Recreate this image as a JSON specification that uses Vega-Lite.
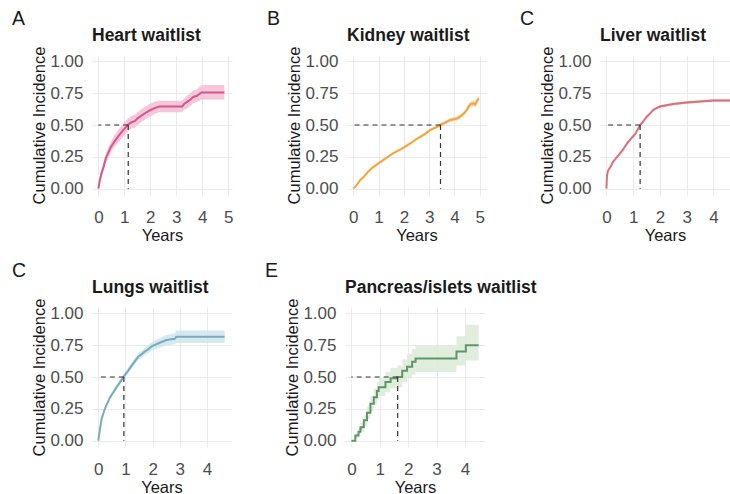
{
  "$schema": "https://vega.github.io/schema/vega-lite/v6.json",
  "background": "white",
  "padding": {"left": 11, "top": 9, "right": 0, "bottom": 0},
  "config": {
    "font": "Liberation Sans",
    "view": {"stroke": null},
    "axis": {"domain": false, "ticks": false, "gridColor": "#ebebeb", "gridWidth": 1, "labelColor": "#4d4d4d", "labelFontSize": 17, "titleFontSize": 16.5, "titleFontWeight": "normal", "titleColor": "#1a1a1a", "labelOverlap": false, "labelFlush": false},
    "axisX": {"labelPadding": 14, "titlePadding": 2},
    "axisY": {"labelPadding": 9, "titlePadding": 2},
    "title": {"anchor": "start", "color": "#1a1a1a"}
  },
  "datasets": {
    "curves": [
      {"organ": "Heart", "t": 0, "est": 0, "lo": 0, "hi": 0},
      {"organ": "Heart", "t": 0.05, "est": 0.06, "lo": 0.04, "hi": 0.08},
      {"organ": "Heart", "t": 0.12, "est": 0.12, "lo": 0.09, "hi": 0.15},
      {"organ": "Heart", "t": 0.2, "est": 0.17, "lo": 0.14, "hi": 0.21},
      {"organ": "Heart", "t": 0.29, "est": 0.24, "lo": 0.2, "hi": 0.28},
      {"organ": "Heart", "t": 0.49, "est": 0.33, "lo": 0.29, "hi": 0.37},
      {"organ": "Heart", "t": 0.62, "est": 0.37, "lo": 0.33, "hi": 0.42},
      {"organ": "Heart", "t": 0.8, "est": 0.42, "lo": 0.37, "hi": 0.47},
      {"organ": "Heart", "t": 1.0, "est": 0.47, "lo": 0.42, "hi": 0.52},
      {"organ": "Heart", "t": 1.13, "est": 0.5, "lo": 0.45, "hi": 0.55},
      {"organ": "Heart", "t": 1.26, "est": 0.52, "lo": 0.47, "hi": 0.57},
      {"organ": "Heart", "t": 1.4, "est": 0.53, "lo": 0.48, "hi": 0.58},
      {"organ": "Heart", "t": 1.5, "est": 0.55, "lo": 0.5, "hi": 0.6},
      {"organ": "Heart", "t": 1.7, "est": 0.58, "lo": 0.53, "hi": 0.63},
      {"organ": "Heart", "t": 1.85, "est": 0.6, "lo": 0.55, "hi": 0.65},
      {"organ": "Heart", "t": 2.03, "est": 0.62, "lo": 0.57, "hi": 0.67},
      {"organ": "Heart", "t": 2.2, "est": 0.635, "lo": 0.59, "hi": 0.685},
      {"organ": "Heart", "t": 2.35, "est": 0.645, "lo": 0.6, "hi": 0.69},
      {"organ": "Heart", "t": 3.23, "est": 0.645, "lo": 0.6, "hi": 0.69},
      {"organ": "Heart", "t": 3.3, "est": 0.665, "lo": 0.62, "hi": 0.71},
      {"organ": "Heart", "t": 3.4, "est": 0.68, "lo": 0.63, "hi": 0.73},
      {"organ": "Heart", "t": 3.55, "est": 0.7, "lo": 0.65, "hi": 0.75},
      {"organ": "Heart", "t": 3.65, "est": 0.72, "lo": 0.67, "hi": 0.77},
      {"organ": "Heart", "t": 3.8, "est": 0.73, "lo": 0.68, "hi": 0.78},
      {"organ": "Heart", "t": 3.97, "est": 0.755, "lo": 0.7, "hi": 0.815},
      {"organ": "Heart", "t": 4.85, "est": 0.755, "lo": 0.7, "hi": 0.815},
      {"organ": "Kidney", "t": 0, "est": 0, "lo": 0, "hi": 0},
      {"organ": "Kidney", "t": 0.1, "est": 0.02, "lo": 0.015, "hi": 0.025},
      {"organ": "Kidney", "t": 0.26, "est": 0.065, "lo": 0.055, "hi": 0.075},
      {"organ": "Kidney", "t": 0.4, "est": 0.09, "lo": 0.08, "hi": 0.1},
      {"organ": "Kidney", "t": 0.55, "est": 0.125, "lo": 0.115, "hi": 0.135},
      {"organ": "Kidney", "t": 0.73, "est": 0.16, "lo": 0.15, "hi": 0.17},
      {"organ": "Kidney", "t": 0.9, "est": 0.185, "lo": 0.175, "hi": 0.195},
      {"organ": "Kidney", "t": 1.0, "est": 0.2, "lo": 0.19, "hi": 0.21},
      {"organ": "Kidney", "t": 1.3, "est": 0.24, "lo": 0.23, "hi": 0.25},
      {"organ": "Kidney", "t": 1.59, "est": 0.28, "lo": 0.27, "hi": 0.29},
      {"organ": "Kidney", "t": 1.98, "est": 0.32, "lo": 0.31, "hi": 0.33},
      {"organ": "Kidney", "t": 2.25, "est": 0.355, "lo": 0.345, "hi": 0.365},
      {"organ": "Kidney", "t": 2.5, "est": 0.39, "lo": 0.38, "hi": 0.4},
      {"organ": "Kidney", "t": 2.8, "est": 0.425, "lo": 0.413, "hi": 0.437},
      {"organ": "Kidney", "t": 3.04, "est": 0.46, "lo": 0.448, "hi": 0.472},
      {"organ": "Kidney", "t": 3.25, "est": 0.48, "lo": 0.468, "hi": 0.492},
      {"organ": "Kidney", "t": 3.44, "est": 0.5, "lo": 0.487, "hi": 0.513},
      {"organ": "Kidney", "t": 3.65, "est": 0.52, "lo": 0.506, "hi": 0.534},
      {"organ": "Kidney", "t": 3.84, "est": 0.54, "lo": 0.525, "hi": 0.555},
      {"organ": "Kidney", "t": 4.1, "est": 0.55, "lo": 0.534, "hi": 0.566},
      {"organ": "Kidney", "t": 4.25, "est": 0.57, "lo": 0.553, "hi": 0.587},
      {"organ": "Kidney", "t": 4.37, "est": 0.59, "lo": 0.572, "hi": 0.608},
      {"organ": "Kidney", "t": 4.5, "est": 0.62, "lo": 0.6, "hi": 0.64},
      {"organ": "Kidney", "t": 4.56, "est": 0.645, "lo": 0.625, "hi": 0.665},
      {"organ": "Kidney", "t": 4.65, "est": 0.665, "lo": 0.643, "hi": 0.687},
      {"organ": "Kidney", "t": 4.75, "est": 0.67, "lo": 0.647, "hi": 0.693},
      {"organ": "Kidney", "t": 4.82, "est": 0.66, "lo": 0.637, "hi": 0.683},
      {"organ": "Kidney", "t": 4.9, "est": 0.69, "lo": 0.665, "hi": 0.715},
      {"organ": "Kidney", "t": 4.96, "est": 0.71, "lo": 0.684, "hi": 0.736},
      {"organ": "Liver", "t": 0, "est": 0, "lo": 0, "hi": 0},
      {"organ": "Liver", "t": 0.02, "est": 0.1, "lo": 0.092, "hi": 0.108},
      {"organ": "Liver", "t": 0.06, "est": 0.14, "lo": 0.131, "hi": 0.149},
      {"organ": "Liver", "t": 0.15, "est": 0.17, "lo": 0.16, "hi": 0.18},
      {"organ": "Liver", "t": 0.25, "est": 0.21, "lo": 0.2, "hi": 0.22},
      {"organ": "Liver", "t": 0.4, "est": 0.25, "lo": 0.24, "hi": 0.26},
      {"organ": "Liver", "t": 0.6, "est": 0.3, "lo": 0.29, "hi": 0.31},
      {"organ": "Liver", "t": 0.77, "est": 0.355, "lo": 0.345, "hi": 0.365},
      {"organ": "Liver", "t": 0.95, "est": 0.4, "lo": 0.39, "hi": 0.41},
      {"organ": "Liver", "t": 1.08, "est": 0.43, "lo": 0.42, "hi": 0.44},
      {"organ": "Liver", "t": 1.26, "est": 0.5, "lo": 0.49, "hi": 0.51},
      {"organ": "Liver", "t": 1.4, "est": 0.535, "lo": 0.525, "hi": 0.545},
      {"organ": "Liver", "t": 1.51, "est": 0.565, "lo": 0.555, "hi": 0.575},
      {"organ": "Liver", "t": 1.65, "est": 0.595, "lo": 0.585, "hi": 0.605},
      {"organ": "Liver", "t": 1.76, "est": 0.62, "lo": 0.61, "hi": 0.63},
      {"organ": "Liver", "t": 1.9, "est": 0.635, "lo": 0.625, "hi": 0.645},
      {"organ": "Liver", "t": 2.0, "est": 0.645, "lo": 0.635, "hi": 0.655},
      {"organ": "Liver", "t": 2.25, "est": 0.655, "lo": 0.645, "hi": 0.665},
      {"organ": "Liver", "t": 2.5, "est": 0.665, "lo": 0.655, "hi": 0.675},
      {"organ": "Liver", "t": 3.0, "est": 0.676, "lo": 0.666, "hi": 0.686},
      {"organ": "Liver", "t": 3.62, "est": 0.687, "lo": 0.677, "hi": 0.697},
      {"organ": "Liver", "t": 4.0, "est": 0.692, "lo": 0.682, "hi": 0.702},
      {"organ": "Liver", "t": 4.62, "est": 0.692, "lo": 0.682, "hi": 0.702},
      {"organ": "Lungs", "t": 0, "est": 0, "lo": 0, "hi": 0},
      {"organ": "Lungs", "t": 0.06, "est": 0.09, "lo": 0.08, "hi": 0.1},
      {"organ": "Lungs", "t": 0.12, "est": 0.17, "lo": 0.155, "hi": 0.185},
      {"organ": "Lungs", "t": 0.24, "est": 0.25, "lo": 0.235, "hi": 0.265},
      {"organ": "Lungs", "t": 0.43, "est": 0.34, "lo": 0.323, "hi": 0.357},
      {"organ": "Lungs", "t": 0.67, "est": 0.42, "lo": 0.402, "hi": 0.438},
      {"organ": "Lungs", "t": 0.8, "est": 0.46, "lo": 0.441, "hi": 0.479},
      {"organ": "Lungs", "t": 0.92, "est": 0.5, "lo": 0.48, "hi": 0.52},
      {"organ": "Lungs", "t": 1.1, "est": 0.55, "lo": 0.528, "hi": 0.572},
      {"organ": "Lungs", "t": 1.28, "est": 0.605, "lo": 0.581, "hi": 0.629},
      {"organ": "Lungs", "t": 1.47, "est": 0.66, "lo": 0.634, "hi": 0.686},
      {"organ": "Lungs", "t": 1.6, "est": 0.68, "lo": 0.652, "hi": 0.708},
      {"organ": "Lungs", "t": 1.71, "est": 0.7, "lo": 0.67, "hi": 0.73},
      {"organ": "Lungs", "t": 1.85, "est": 0.72, "lo": 0.688, "hi": 0.752},
      {"organ": "Lungs", "t": 1.96, "est": 0.74, "lo": 0.706, "hi": 0.774},
      {"organ": "Lungs", "t": 2.2, "est": 0.763, "lo": 0.726, "hi": 0.8},
      {"organ": "Lungs", "t": 2.5, "est": 0.79, "lo": 0.75, "hi": 0.83},
      {"organ": "Lungs", "t": 2.81, "est": 0.8, "lo": 0.757, "hi": 0.843},
      {"organ": "Lungs", "t": 2.87, "est": 0.816, "lo": 0.768, "hi": 0.866},
      {"organ": "Lungs", "t": 4.65, "est": 0.816, "lo": 0.768, "hi": 0.866},
      {"organ": "Pancreas", "t": 0, "est": 0, "lo": 0, "hi": 0},
      {"organ": "Pancreas", "t": 0.14, "est": 0.04, "lo": 0.02, "hi": 0.06},
      {"organ": "Pancreas", "t": 0.25, "est": 0.07, "lo": 0.04, "hi": 0.1},
      {"organ": "Pancreas", "t": 0.32, "est": 0.105, "lo": 0.07, "hi": 0.14},
      {"organ": "Pancreas", "t": 0.44, "est": 0.16, "lo": 0.12, "hi": 0.2},
      {"organ": "Pancreas", "t": 0.55, "est": 0.22, "lo": 0.17, "hi": 0.27},
      {"organ": "Pancreas", "t": 0.67, "est": 0.29, "lo": 0.23, "hi": 0.35},
      {"organ": "Pancreas", "t": 0.79, "est": 0.34, "lo": 0.28, "hi": 0.41},
      {"organ": "Pancreas", "t": 0.9, "est": 0.39, "lo": 0.32, "hi": 0.46},
      {"organ": "Pancreas", "t": 0.96, "est": 0.42, "lo": 0.35, "hi": 0.49},
      {"organ": "Pancreas", "t": 1.2, "est": 0.46, "lo": 0.38, "hi": 0.54},
      {"organ": "Pancreas", "t": 1.38, "est": 0.49, "lo": 0.41, "hi": 0.57},
      {"organ": "Pancreas", "t": 1.61, "est": 0.5, "lo": 0.42, "hi": 0.59},
      {"organ": "Pancreas", "t": 1.79, "est": 0.55, "lo": 0.46, "hi": 0.64},
      {"organ": "Pancreas", "t": 1.96, "est": 0.58, "lo": 0.49, "hi": 0.68},
      {"organ": "Pancreas", "t": 2.14, "est": 0.62, "lo": 0.52, "hi": 0.72},
      {"organ": "Pancreas", "t": 2.26, "est": 0.645, "lo": 0.54, "hi": 0.75},
      {"organ": "Pancreas", "t": 3.7, "est": 0.7, "lo": 0.59, "hi": 0.82},
      {"organ": "Pancreas", "t": 4.03, "est": 0.75, "lo": 0.63, "hi": 0.91},
      {"organ": "Pancreas", "t": 4.48, "est": 0.75, "lo": 0.63, "hi": 0.91}
    ],
    "medians": [
      {"organ": "Heart", "median": 1.15, "level": 0.5},
      {"organ": "Kidney", "median": 3.45, "level": 0.5},
      {"organ": "Liver", "median": 1.26, "level": 0.5},
      {"organ": "Lungs", "median": 0.94, "level": 0.5},
      {"organ": "Pancreas", "median": 1.63, "level": 0.5}
    ]
  },
  "spacing": 17,
  "vconcat": [
    {
      "spacing": 33,
      "hconcat": [
        {
          "title": {"text": "A", "fontSize": 19.5, "fontWeight": "normal", "frame": "bounds", "dx": -20, "offset": -3},
          "vconcat": [{
            "title": {"text": "Heart waitlist", "fontSize": 17.5, "fontWeight": "bold", "frame": "group", "offset": 2},
            "width": 140, "height": 140,
            "layer": [
              {"data": {"name": "curves"}, "transform": [{"filter": "datum.organ === 'Heart'"}],
               "mark": {"type": "area", "color": "#f4bcd5", "opacity": 0.85},
               "encoding": {
                 "x": {"field": "t", "type": "quantitative", "scale": {"domain": [-0.245, 5.145], "nice": false, "zero": false}, "axis": {"values": [0, 1, 2, 3, 4, 5], "title": "Years"}},
                 "y": {"field": "lo", "type": "quantitative", "scale": {"domain": [-0.05, 1.05], "nice": false, "zero": false}, "axis": {"values": [0, 0.25, 0.5, 0.75, 1], "format": ".2f", "title": "Cumulative Incidence"}},
                 "y2": {"field": "hi"}}},
              {"data": {"name": "curves"}, "transform": [{"filter": "datum.organ === 'Heart'"}],
               "mark": {"type": "line", "color": "#d6578c", "strokeWidth": 2},
               "encoding": {
                 "x": {"field": "t", "type": "quantitative", "scale": {"domain": [-0.245, 5.145], "nice": false, "zero": false}, "axis": {"values": [0, 1, 2, 3, 4, 5], "title": "Years"}},
                 "y": {"field": "est", "type": "quantitative", "scale": {"domain": [-0.05, 1.05], "nice": false, "zero": false}, "axis": {"values": [0, 0.25, 0.5, 0.75, 1], "format": ".2f", "title": "Cumulative Incidence"}}}},
              {"data": {"name": "medians"}, "transform": [{"filter": "datum.organ === 'Heart'"}],
               "mark": {"type": "rule", "color": "#333333", "strokeWidth": 1.2, "strokeDash": [5, 4]},
               "encoding": {
                 "x": {"field": "median", "type": "quantitative", "scale": {"domain": [-0.245, 5.145], "nice": false, "zero": false}, "axis": {"values": [0, 1, 2, 3, 4, 5], "title": "Years"}},
                 "x2": {"datum": 0},
                 "y": {"field": "level", "type": "quantitative", "scale": {"domain": [-0.05, 1.05], "nice": false, "zero": false}, "axis": {"values": [0, 0.25, 0.5, 0.75, 1], "format": ".2f", "title": "Cumulative Incidence"}}}},
              {"data": {"name": "medians"}, "transform": [{"filter": "datum.organ === 'Heart'"}],
               "mark": {"type": "rule", "color": "#333333", "strokeWidth": 1.2, "strokeDash": [5, 4]},
               "encoding": {
                 "x": {"field": "median", "type": "quantitative", "scale": {"domain": [-0.245, 5.145], "nice": false, "zero": false}, "axis": {"values": [0, 1, 2, 3, 4, 5], "title": "Years"}},
                 "y": {"field": "level", "type": "quantitative", "scale": {"domain": [-0.05, 1.05], "nice": false, "zero": false}, "axis": {"values": [0, 0.25, 0.5, 0.75, 1], "format": ".2f", "title": "Cumulative Incidence"}},
                 "y2": {"datum": 0}}}
            ]
          }]
        },
        {
          "title": {"text": "B", "fontSize": 19.5, "fontWeight": "normal", "frame": "bounds", "dx": -20, "offset": -3},
          "vconcat": [{
            "title": {"text": "Kidney waitlist", "fontSize": 17.5, "fontWeight": "bold", "frame": "group", "offset": 2},
            "width": 139, "height": 140,
            "layer": [
              {"data": {"name": "curves"}, "transform": [{"filter": "datum.organ === 'Kidney'"}],
               "mark": {"type": "area", "color": "#f8d3a0", "opacity": 0.85},
               "encoding": {
                 "x": {"field": "t", "type": "quantitative", "scale": {"domain": [-0.25, 5.25], "nice": false, "zero": false}, "axis": {"values": [0, 1, 2, 3, 4, 5], "title": "Years"}},
                 "y": {"field": "lo", "type": "quantitative", "scale": {"domain": [-0.05, 1.05], "nice": false, "zero": false}, "axis": {"values": [0, 0.25, 0.5, 0.75, 1], "format": ".2f", "title": "Cumulative Incidence"}},
                 "y2": {"field": "hi"}}},
              {"data": {"name": "curves"}, "transform": [{"filter": "datum.organ === 'Kidney'"}],
               "mark": {"type": "line", "color": "#f2a641", "strokeWidth": 2},
               "encoding": {
                 "x": {"field": "t", "type": "quantitative", "scale": {"domain": [-0.25, 5.25], "nice": false, "zero": false}, "axis": {"values": [0, 1, 2, 3, 4, 5], "title": "Years"}},
                 "y": {"field": "est", "type": "quantitative", "scale": {"domain": [-0.05, 1.05], "nice": false, "zero": false}, "axis": {"values": [0, 0.25, 0.5, 0.75, 1], "format": ".2f", "title": "Cumulative Incidence"}}}},
              {"data": {"name": "medians"}, "transform": [{"filter": "datum.organ === 'Kidney'"}],
               "mark": {"type": "rule", "color": "#333333", "strokeWidth": 1.2, "strokeDash": [5, 4]},
               "encoding": {
                 "x": {"field": "median", "type": "quantitative", "scale": {"domain": [-0.25, 5.25], "nice": false, "zero": false}, "axis": {"values": [0, 1, 2, 3, 4, 5], "title": "Years"}},
                 "x2": {"datum": 0},
                 "y": {"field": "level", "type": "quantitative", "scale": {"domain": [-0.05, 1.05], "nice": false, "zero": false}, "axis": {"values": [0, 0.25, 0.5, 0.75, 1], "format": ".2f", "title": "Cumulative Incidence"}}}},
              {"data": {"name": "medians"}, "transform": [{"filter": "datum.organ === 'Kidney'"}],
               "mark": {"type": "rule", "color": "#333333", "strokeWidth": 1.2, "strokeDash": [5, 4]},
               "encoding": {
                 "x": {"field": "median", "type": "quantitative", "scale": {"domain": [-0.25, 5.25], "nice": false, "zero": false}, "axis": {"values": [0, 1, 2, 3, 4, 5], "title": "Years"}},
                 "y": {"field": "level", "type": "quantitative", "scale": {"domain": [-0.05, 1.05], "nice": false, "zero": false}, "axis": {"values": [0, 0.25, 0.5, 0.75, 1], "format": ".2f", "title": "Cumulative Incidence"}},
                 "y2": {"datum": 0}}}
            ]
          }]
        },
        {
          "title": {"text": "C", "fontSize": 19.5, "fontWeight": "normal", "frame": "bounds", "dx": -20, "offset": -3},
          "vconcat": [{
            "title": {"text": "Liver waitlist", "fontSize": 17.5, "fontWeight": "bold", "frame": "group", "offset": 2},
            "width": 130, "height": 140,
            "layer": [
              {"data": {"name": "curves"}, "transform": [{"filter": "datum.organ === 'Liver'"}],
               "mark": {"type": "area", "color": "#f0b8bc", "opacity": 0.85},
               "encoding": {
                 "x": {"field": "t", "type": "quantitative", "scale": {"domain": [-0.24, 4.62], "nice": false, "zero": false}, "axis": {"values": [0, 1, 2, 3, 4], "title": "Years"}},
                 "y": {"field": "lo", "type": "quantitative", "scale": {"domain": [-0.05, 1.05], "nice": false, "zero": false}, "axis": {"values": [0, 0.25, 0.5, 0.75, 1], "format": ".2f", "title": "Cumulative Incidence"}},
                 "y2": {"field": "hi"}}},
              {"data": {"name": "curves"}, "transform": [{"filter": "datum.organ === 'Liver'"}],
               "mark": {"type": "line", "color": "#d9707a", "strokeWidth": 2},
               "encoding": {
                 "x": {"field": "t", "type": "quantitative", "scale": {"domain": [-0.24, 4.62], "nice": false, "zero": false}, "axis": {"values": [0, 1, 2, 3, 4], "title": "Years"}},
                 "y": {"field": "est", "type": "quantitative", "scale": {"domain": [-0.05, 1.05], "nice": false, "zero": false}, "axis": {"values": [0, 0.25, 0.5, 0.75, 1], "format": ".2f", "title": "Cumulative Incidence"}}}},
              {"data": {"name": "medians"}, "transform": [{"filter": "datum.organ === 'Liver'"}],
               "mark": {"type": "rule", "color": "#333333", "strokeWidth": 1.2, "strokeDash": [5, 4]},
               "encoding": {
                 "x": {"field": "median", "type": "quantitative", "scale": {"domain": [-0.24, 4.62], "nice": false, "zero": false}, "axis": {"values": [0, 1, 2, 3, 4], "title": "Years"}},
                 "x2": {"datum": 0},
                 "y": {"field": "level", "type": "quantitative", "scale": {"domain": [-0.05, 1.05], "nice": false, "zero": false}, "axis": {"values": [0, 0.25, 0.5, 0.75, 1], "format": ".2f", "title": "Cumulative Incidence"}}}},
              {"data": {"name": "medians"}, "transform": [{"filter": "datum.organ === 'Liver'"}],
               "mark": {"type": "rule", "color": "#333333", "strokeWidth": 1.2, "strokeDash": [5, 4]},
               "encoding": {
                 "x": {"field": "median", "type": "quantitative", "scale": {"domain": [-0.24, 4.62], "nice": false, "zero": false}, "axis": {"values": [0, 1, 2, 3, 4], "title": "Years"}},
                 "y": {"field": "level", "type": "quantitative", "scale": {"domain": [-0.05, 1.05], "nice": false, "zero": false}, "axis": {"values": [0, 0.25, 0.5, 0.75, 1], "format": ".2f", "title": "Cumulative Incidence"}},
                 "y2": {"datum": 0}}}
            ]
          }]
        }
      ]
    },
    {
      "spacing": 33,
      "hconcat": [
        {
          "title": {"text": "C", "fontSize": 19.5, "fontWeight": "normal", "frame": "bounds", "dx": -20, "offset": -3},
          "vconcat": [{
            "title": {"text": "Lungs waitlist", "fontSize": 17.5, "fontWeight": "bold", "frame": "group", "offset": 2},
            "width": 139, "height": 140,
            "layer": [
              {"data": {"name": "curves"}, "transform": [{"filter": "datum.organ === 'Lungs'"}],
               "mark": {"type": "area", "color": "#cfe5ec", "opacity": 0.85},
               "encoding": {
                 "x": {"field": "t", "type": "quantitative", "scale": {"domain": [-0.2325, 4.8825], "nice": false, "zero": false}, "axis": {"values": [0, 1, 2, 3, 4], "title": "Years"}},
                 "y": {"field": "lo", "type": "quantitative", "scale": {"domain": [-0.05, 1.05], "nice": false, "zero": false}, "axis": {"values": [0, 0.25, 0.5, 0.75, 1], "format": ".2f", "title": "Cumulative Incidence"}},
                 "y2": {"field": "hi"}}},
              {"data": {"name": "curves"}, "transform": [{"filter": "datum.organ === 'Lungs'"}],
               "mark": {"type": "line", "color": "#78abbd", "strokeWidth": 2},
               "encoding": {
                 "x": {"field": "t", "type": "quantitative", "scale": {"domain": [-0.2325, 4.8825], "nice": false, "zero": false}, "axis": {"values": [0, 1, 2, 3, 4], "title": "Years"}},
                 "y": {"field": "est", "type": "quantitative", "scale": {"domain": [-0.05, 1.05], "nice": false, "zero": false}, "axis": {"values": [0, 0.25, 0.5, 0.75, 1], "format": ".2f", "title": "Cumulative Incidence"}}}},
              {"data": {"name": "medians"}, "transform": [{"filter": "datum.organ === 'Lungs'"}],
               "mark": {"type": "rule", "color": "#333333", "strokeWidth": 1.2, "strokeDash": [5, 4]},
               "encoding": {
                 "x": {"field": "median", "type": "quantitative", "scale": {"domain": [-0.2325, 4.8825], "nice": false, "zero": false}, "axis": {"values": [0, 1, 2, 3, 4], "title": "Years"}},
                 "x2": {"datum": 0},
                 "y": {"field": "level", "type": "quantitative", "scale": {"domain": [-0.05, 1.05], "nice": false, "zero": false}, "axis": {"values": [0, 0.25, 0.5, 0.75, 1], "format": ".2f", "title": "Cumulative Incidence"}}}},
              {"data": {"name": "medians"}, "transform": [{"filter": "datum.organ === 'Lungs'"}],
               "mark": {"type": "rule", "color": "#333333", "strokeWidth": 1.2, "strokeDash": [5, 4]},
               "encoding": {
                 "x": {"field": "median", "type": "quantitative", "scale": {"domain": [-0.2325, 4.8825], "nice": false, "zero": false}, "axis": {"values": [0, 1, 2, 3, 4], "title": "Years"}},
                 "y": {"field": "level", "type": "quantitative", "scale": {"domain": [-0.05, 1.05], "nice": false, "zero": false}, "axis": {"values": [0, 0.25, 0.5, 0.75, 1], "format": ".2f", "title": "Cumulative Incidence"}},
                 "y2": {"datum": 0}}}
            ]
          }]
        },
        {
          "title": {"text": "E", "fontSize": 19.5, "fontWeight": "normal", "frame": "bounds", "dx": -20, "offset": -3},
          "vconcat": [{
            "title": {"text": "Pancreas/islets waitlist", "fontSize": 17.5, "fontWeight": "bold", "frame": "group", "offset": 2},
            "width": 140, "height": 140,
            "layer": [
              {"data": {"name": "curves"}, "transform": [{"filter": "datum.organ === 'Pancreas'"}],
               "mark": {"type": "area", "color": "#dcebd8", "opacity": 0.85, "interpolate": "step-after"},
               "encoding": {
                 "x": {"field": "t", "type": "quantitative", "scale": {"domain": [-0.224, 4.704], "nice": false, "zero": false}, "axis": {"values": [0, 1, 2, 3, 4], "title": "Years"}},
                 "y": {"field": "lo", "type": "quantitative", "scale": {"domain": [-0.05, 1.05], "nice": false, "zero": false}, "axis": {"values": [0, 0.25, 0.5, 0.75, 1], "format": ".2f", "title": "Cumulative Incidence"}},
                 "y2": {"field": "hi"}}},
              {"data": {"name": "curves"}, "transform": [{"filter": "datum.organ === 'Pancreas'"}],
               "mark": {"type": "line", "color": "#62946a", "strokeWidth": 2, "interpolate": "step-after"},
               "encoding": {
                 "x": {"field": "t", "type": "quantitative", "scale": {"domain": [-0.224, 4.704], "nice": false, "zero": false}, "axis": {"values": [0, 1, 2, 3, 4], "title": "Years"}},
                 "y": {"field": "est", "type": "quantitative", "scale": {"domain": [-0.05, 1.05], "nice": false, "zero": false}, "axis": {"values": [0, 0.25, 0.5, 0.75, 1], "format": ".2f", "title": "Cumulative Incidence"}}}},
              {"data": {"name": "medians"}, "transform": [{"filter": "datum.organ === 'Pancreas'"}],
               "mark": {"type": "rule", "color": "#333333", "strokeWidth": 1.2, "strokeDash": [5, 4]},
               "encoding": {
                 "x": {"field": "median", "type": "quantitative", "scale": {"domain": [-0.224, 4.704], "nice": false, "zero": false}, "axis": {"values": [0, 1, 2, 3, 4], "title": "Years"}},
                 "x2": {"datum": 0},
                 "y": {"field": "level", "type": "quantitative", "scale": {"domain": [-0.05, 1.05], "nice": false, "zero": false}, "axis": {"values": [0, 0.25, 0.5, 0.75, 1], "format": ".2f", "title": "Cumulative Incidence"}}}},
              {"data": {"name": "medians"}, "transform": [{"filter": "datum.organ === 'Pancreas'"}],
               "mark": {"type": "rule", "color": "#333333", "strokeWidth": 1.2, "strokeDash": [5, 4]},
               "encoding": {
                 "x": {"field": "median", "type": "quantitative", "scale": {"domain": [-0.224, 4.704], "nice": false, "zero": false}, "axis": {"values": [0, 1, 2, 3, 4], "title": "Years"}},
                 "y": {"field": "level", "type": "quantitative", "scale": {"domain": [-0.05, 1.05], "nice": false, "zero": false}, "axis": {"values": [0, 0.25, 0.5, 0.75, 1], "format": ".2f", "title": "Cumulative Incidence"}},
                 "y2": {"datum": 0}}}
            ]
          }]
        }
      ]
    }
  ]
}
